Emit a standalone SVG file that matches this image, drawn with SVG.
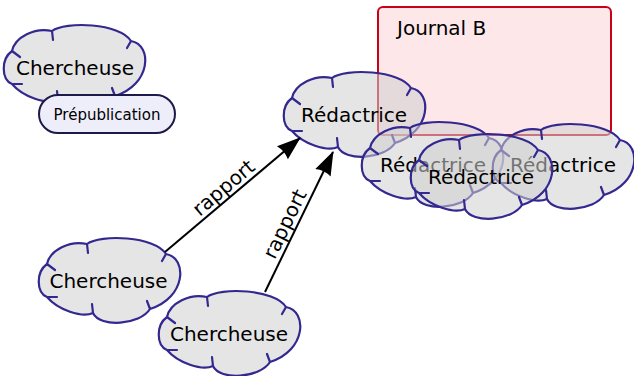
<svg xmlns="http://www.w3.org/2000/svg" xmlns:xlink="http://www.w3.org/1999/xlink" width="634" height="376" viewBox="0 0 634 376">
  <style>
    .cloud { fill: #d0d0d0; fill-opacity: 0.55; stroke: #33288f; stroke-width: 2.2; stroke-linejoin: round; stroke-linecap: round; }
    .lbl { font-family: "DejaVu Sans", sans-serif; font-size: 20px; fill: #000; text-anchor: middle; }
    .small { font-family: "DejaVu Sans", sans-serif; font-size: 15px; fill: #000; text-anchor: middle; }
    .edge { stroke: #000; stroke-width: 2; fill: none; marker-end: url(#ah); }
  </style>
  <defs>
    <path id="cloud" d="M -63,-16 C -60,-30 -40,-40 -23,-36 C -10,-46 45,-44 56,-26 C 78,-22 76,18 40,29 C 30,45 -10,48 -17,33 C -28,38 -52,30 -63,17 C -74,12 -74,-8 -63,-16 Z M -63,-16 L -55,-10 M -23,-36 L -22,-27 M 56,-26 L 52,-19 M 40,29 L 37,21 M -17,33 L -18,24 M -63,17 L -53,17"/>
    <marker id="ah" markerUnits="userSpaceOnUse" markerWidth="28" markerHeight="22" viewBox="-26 -11 28 22" refX="0" refY="0" orient="auto">
      <path d="M 1,0 L -23,-8.5 Q -20,0 -23,8.5 Z" fill="#000"/>
    </marker>
  </defs>

  <g id="journal-b">
    <rect x="378" y="7" width="233" height="128" rx="5" fill="#fde7e9" stroke="#c8001a" stroke-width="2"/>
    <text x="397" y="35" class="lbl" style="text-anchor:start">Journal B</text>
  </g>

  <g id="chercheuse-1">
    <use xlink:href="#cloud" href="#cloud" x="75" y="67" class="cloud"/>
    <text x="75" y="75" class="lbl">Chercheuse</text>
  </g>

  <g id="prepublication">
    <rect x="39" y="95" width="136" height="38" rx="19" fill="#eeeefa" stroke="#1c1a48" stroke-width="2"/>
    <text x="107" y="119.5" class="small">Prépublication</text>
  </g>

  <g id="chercheuse-2">
    <use xlink:href="#cloud" href="#cloud" x="110" y="280" class="cloud"/>
    <text x="108.5" y="287.5" class="lbl">Chercheuse</text>
  </g>

  <g id="chercheuse-3">
    <use xlink:href="#cloud" href="#cloud" x="230" y="333" class="cloud"/>
    <text x="229" y="340.5" class="lbl">Chercheuse</text>
  </g>

  <g id="redactrice-0">
    <use xlink:href="#cloud" href="#cloud" x="355" y="114" class="cloud"/>
    <text x="354" y="122" class="lbl">Rédactrice</text>
  </g>

  <g id="redactrice-1">
    <use xlink:href="#cloud" href="#cloud" x="433" y="164" class="cloud"/>
    <text x="433" y="172" class="lbl">Rédactrice</text>
  </g>

  <g id="redactrice-2">
    <use xlink:href="#cloud" href="#cloud" x="564" y="166" class="cloud"/>
    <text x="563" y="172" class="lbl">Rédactrice</text>
  </g>

  <g id="redactrice-3">
    <use xlink:href="#cloud" href="#cloud" x="482" y="176" class="cloud"/>
    <text x="481" y="183.5" class="lbl">Rédactrice</text>
  </g>

  <g id="connectors">
    <line x1="165" y1="252" x2="300" y2="138" class="edge"/>
    <text class="lbl" transform="translate(228,193) rotate(-40.2)">rapport</text>
    <line x1="265" y1="292" x2="333" y2="152" class="edge"/>
    <text class="lbl" transform="translate(291,227) rotate(-64.1)">rapport</text>
  </g>
</svg>
